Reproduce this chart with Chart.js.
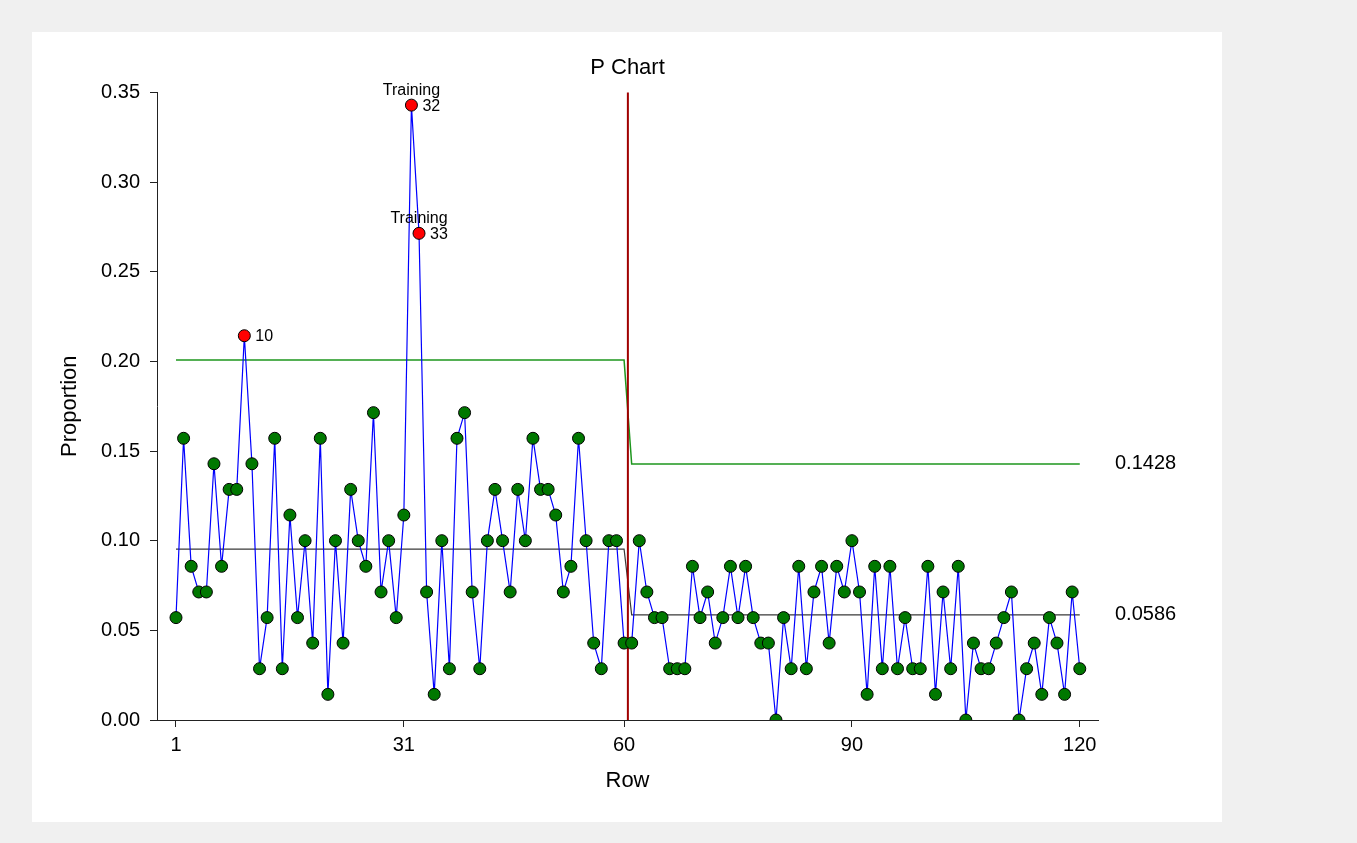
<!DOCTYPE html>
<html>
<head>
<meta charset="utf-8">
<script src="https://cdn.jsdelivr.net/npm/chart.js@4.4.1/dist/chart.umd.min.js"></script>
<style>
    body { margin: 0; background: #f0f0f0; }
    #panel { position: absolute; left: 32px; top: 32px; width: 1190px; height: 790px; background: #fff; }
</style>
</head>
<body>
<div id="panel"><canvas id="pChart" width="1190" height="790"></canvas></div>
<script>
// rows 1..120, proportion defective per row (n = 70)
var rows = Array.from({ length: 120 }, function (_, i) { return i + 1; });
var proportion = [
    0.0571, 0.1571, 0.0857, 0.0714, 0.0714, 0.1429, 0.0857, 0.1286, 0.1286, 0.2143,
    0.1429, 0.0286, 0.0571, 0.1571, 0.0286, 0.1143, 0.0571, 0.1000, 0.0429, 0.1571,
    0.0143, 0.1000, 0.0429, 0.1286, 0.1000, 0.0857, 0.1714, 0.0714, 0.1000, 0.0571,
    0.1143, 0.3429, 0.2714, 0.0714, 0.0143, 0.1000, 0.0286, 0.1571, 0.1714, 0.0714,
    0.0286, 0.1000, 0.1286, 0.1000, 0.0714, 0.1286, 0.1000, 0.1571, 0.1286, 0.1286,
    0.1143, 0.0714, 0.0857, 0.1571, 0.1000, 0.0429, 0.0286, 0.1000, 0.1000, 0.0429,
    0.0429, 0.1000, 0.0714, 0.0571, 0.0571, 0.0286, 0.0286, 0.0286, 0.0857, 0.0571,
    0.0714, 0.0429, 0.0571, 0.0857, 0.0571, 0.0857, 0.0571, 0.0429, 0.0429, 0.0000,
    0.0571, 0.0286, 0.0857, 0.0286, 0.0714, 0.0857, 0.0429, 0.0857, 0.0714, 0.1000,
    0.0714, 0.0143, 0.0857, 0.0286, 0.0857, 0.0286, 0.0571, 0.0286, 0.0286, 0.0857,
    0.0143, 0.0714, 0.0286, 0.0857, 0.0000, 0.0429, 0.0286, 0.0286, 0.0429, 0.0571,
    0.0714, 0.0000, 0.0286, 0.0429, 0.0143, 0.0571, 0.0429, 0.0143, 0.0714, 0.0286
];
var phaseEnd = 60;              // last row of the first (training) phase
var uclLimits = [0.2007, 0.1428];
var clLimits = [0.0953, 0.0586];
var flagged = [10, 32, 33];
var notes = { 32: 'Training', 33: 'Training' };
var xTicks = [1, 31, 60, 90, 120];

var FONT = 'Arial, "Liberation Sans", sans-serif';

function phaseLine(limits) {
    return rows.map(function (r) {
        return { x: r, y: r <= phaseEnd ? limits[0] : limits[1] };
    });
}

var pointColors = rows.map(function (r) {
    return flagged.indexOf(r) >= 0 ? '#ff0000' : '#007800';
});

// red phase divider, drawn just before the data line
var phaseDivider = {
    id: 'phaseDivider',
    beforeDatasetDraw: function (chart, args) {
        if (args.index !== 0) return;
        var ctx = chart.ctx, area = chart.chartArea;
        var x = chart.scales.x.getPixelForValue(phaseEnd + 0.5);
        ctx.save();
        ctx.strokeStyle = '#a00000';
        ctx.lineWidth = 2;
        ctx.beginPath();
        ctx.moveTo(x, area.top);
        ctx.lineTo(x, area.bottom);
        ctx.stroke();
        ctx.restore();
    }
};

var pointNotes = {
    id: 'pointNotes',
    afterDatasetsDraw: function (chart) {
        var ctx = chart.ctx;
        var meta = chart.getDatasetMeta(0);
        var yScale = chart.scales.y, area = chart.chartArea;
        ctx.save();
        ctx.fillStyle = '#000';
        ctx.font = '16px ' + FONT;
        flagged.forEach(function (r) {
            var pt = meta.data[r - 1];
            ctx.textAlign = 'left';
            ctx.textBaseline = 'middle';
            ctx.fillText(String(r), pt.x + 11, pt.y + 1);
            if (notes[r]) {
                ctx.textAlign = 'center';
                ctx.textBaseline = 'alphabetic';
                ctx.fillText(notes[r], pt.x, pt.y - 10);
            }
        });
        // last-phase limit values on the right
        ctx.font = '20px ' + FONT;
        ctx.textAlign = 'left';
        ctx.textBaseline = 'middle';
        [uclLimits[1], clLimits[1]].forEach(function (v) {
            ctx.fillText(v.toFixed(4), area.right + 17, yScale.getPixelForValue(v));
        });
        ctx.restore();
    }
};

var ctx = document.getElementById('pChart').getContext('2d');
var pChart = new Chart(ctx, {
    type: 'line',
    data: {
        datasets: [{
            label: 'Proportion',
            data: rows.map(function (r, i) { return { x: r, y: proportion[i] }; }),
            borderColor: '#0000ff',
            borderWidth: 1.2,
            pointRadius: 6,
            pointBackgroundColor: pointColors,
            pointBorderColor: '#000',
            pointBorderWidth: 1,
            tension: 0
        }, {
            label: 'CL',
            data: phaseLine(clLimits),
            borderColor: '#3a3a3a',
            borderWidth: 1.2,
            pointRadius: 0
        }, {
            label: 'UCL',
            data: phaseLine(uclLimits),
            borderColor: '#1e961e',
            borderWidth: 1.5,
            pointRadius: 0
        }]
    },
    options: {
        responsive: false,
        animation: false,
        layout: { padding: { left: 15, right: 124, top: 0, bottom: 28 } },
        plugins: {
            legend: { display: false },
            tooltip: { enabled: false },
            title: {
                display: true,
                text: 'P Chart',
                fullSize: false,
                color: '#000',
                font: { family: FONT, size: 22, weight: 'normal' },
                padding: { top: 23, bottom: 11 }
            }
        },
        scales: {
            x: {
                type: 'linear',
                min: -1.5,
                max: 122.4,
                afterBuildTicks: function (axis) {
                    axis.ticks = xTicks.map(function (v) { return { value: v }; });
                },
                afterFit: function (scale) { scale.height = 74; },
                ticks: {
                    color: '#000',
                    font: { family: FONT, size: 20 },
                    padding: 6,
                    autoSkip: false,
                    maxRotation: 0,
                    callback: function (v) { return String(v); }
                },
                grid: { drawOnChartArea: false, drawTicks: true, tickLength: 7, color: '#222' },
                border: { color: '#222', width: 1 },
                title: {
                    display: true,
                    text: 'Row',
                    color: '#000',
                    font: { family: FONT, size: 22 },
                    padding: { top: 0, bottom: 0 }
                }
            },
            y: {
                min: 0,
                max: 0.35,
                afterFit: function (scale) { scale.width = 110; },
                ticks: {
                    stepSize: 0.05,
                    color: '#000',
                    font: { family: FONT, size: 20 },
                    padding: 10,
                    callback: function (v) { return v.toFixed(2); }
                },
                grid: { drawOnChartArea: false, drawTicks: true, tickLength: 7, color: '#222' },
                border: { color: '#222', width: 1 },
                title: {
                    display: true,
                    text: 'Proportion',
                    color: '#000',
                    font: { family: FONT, size: 22 },
                    padding: { top: 10, bottom: 0 }
                }
            }
        }
    },
    plugins: [phaseDivider, pointNotes]
});
</script>
</body>
</html>
